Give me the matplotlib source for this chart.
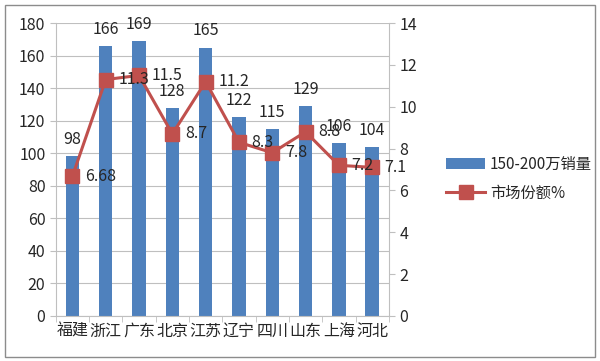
import matplotlib
matplotlib.use("Agg")
import matplotlib.pyplot as plt
from matplotlib.patches import Rectangle

plt.rcParams['font.family'] = ['Noto Sans CJK SC', 'DejaVu Sans']

categories = ['福建', '浙江', '广东', '北京', '江苏', '辽宁', '四川', '山东', '上海', '河北']
sales = [98, 166, 169, 128, 165, 122, 115, 129, 106, 104]
share = [6.68, 11.3, 11.5, 8.7, 11.2, 8.3, 7.8, 8.8, 7.2, 7.1]
share_labels = ['6.68', '11.3', '11.5', '8.7', '11.2', '8.3', '7.8', '8.8', '7.2', '7.1']
bar_name = '150-200万销量'
line_name = '市场份额%'

BLUE = '#4F81BD'
RED = '#C0504D'
GRID = '#BFBFBF'
TXT = '#262626'
FS = 11.5

fig = plt.figure(figsize=(6, 3.61), dpi=100)
fig.patches.append(Rectangle((0.008, 0.012), 0.984, 0.975, transform=fig.transFigure,
                             fill=False, edgecolor='#8C8C8C', linewidth=1.0))
ax = fig.add_axes([0.093, 0.125, 0.555, 0.811])
x = list(range(len(categories)))
bars = ax.bar(x, sales, width=0.4, color=BLUE, zorder=2, label=bar_name)
ax.set_xlim(-0.5, len(categories) - 0.5)
ax.set_ylim(0, 180)
ax.set_yticks(range(0, 181, 20))
ax.yaxis.grid(True, color=GRID, linewidth=0.8, zorder=0)
ax.set_axisbelow(True)
for s in ['top', 'right']:
    ax.spines[s].set_visible(False)
ax.spines['left'].set_color(GRID)
ax.spines['bottom'].set_color(GRID)
ax.tick_params(axis='y', colors=GRID, labelcolor=TXT, labelsize=FS, length=4)
ax.set_xticks(x)
ax.set_xticklabels(categories, fontsize=11.5, color=TXT)
ax.tick_params(axis='x', length=0, pad=5)
ax.set_xticks([i - 0.5 for i in range(len(categories) + 1)], minor=True)
ax.tick_params(axis='x', which='minor', length=4, colors=GRID)
for xi, v in zip(x, sales):
    ax.text(xi, v + 5, str(v), ha='center', va='bottom', fontsize=FS, color=TXT)

ax2 = ax.twinx()
ax2.set_ylim(0, 14)
ax2.set_yticks(range(0, 15, 2))
for s in ['top', 'left', 'bottom']:
    ax2.spines[s].set_visible(False)
ax2.spines['right'].set_color(GRID)
ax2.tick_params(axis='y', colors=GRID, labelcolor=TXT, labelsize=FS, length=4)
ax2.plot(x, share, color=RED, linewidth=2.2, marker='s', markersize=9.5,
         markerfacecolor=RED, markeredgecolor=RED, label=line_name, zorder=3)
for xi, v, lab in zip(x, share, share_labels):
    ax2.annotate(lab, (xi, v), xytext=(9, 0), textcoords='offset points',
                 ha='left', va='center', fontsize=FS, color=TXT)

h1, l1 = ax.get_legend_handles_labels()
h2, l2 = ax2.get_legend_handles_labels()
fig.legend(h1 + h2, l1 + l2, loc='center left', bbox_to_anchor=(0.72, 0.505),
           frameon=False, fontsize=11, handlelength=2.6, labelspacing=0.8,
           handletextpad=0.3, labelcolor=TXT)

fig.savefig('out.png', dpi=100)
